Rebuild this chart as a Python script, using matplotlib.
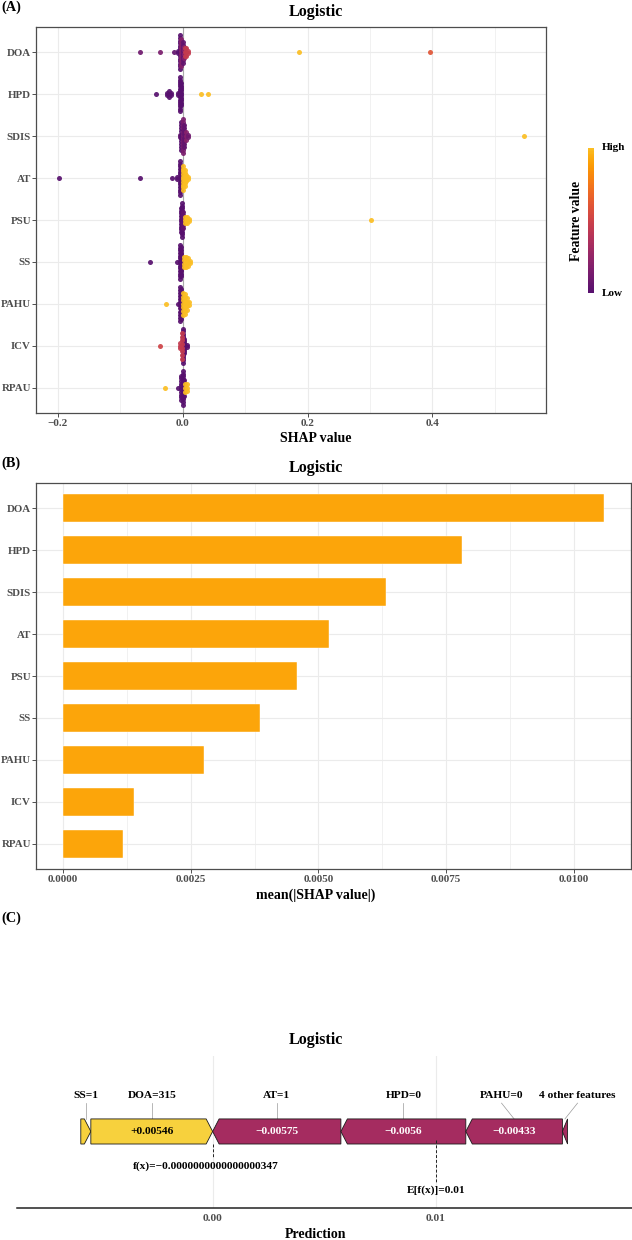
import numpy as np
import matplotlib
matplotlib.use("Agg")
import matplotlib.pyplot as plt
from matplotlib.colors import ListedColormap
from matplotlib.patches import Polygon
from matplotlib.cm import ScalarMappable
from matplotlib.colors import Normalize
from matplotlib.ticker import FixedLocator

plt.rcParams['font.family'] = ['Liberation Serif', 'DejaVu Serif']
plt.rcParams['font.weight'] = 'bold'
plt.rcParams['axes.unicode_minus'] = True

# ---------------- data ----------------
features = ["DOA", "HPD", "SDIS", "AT", "PSU", "SS", "PAHU", "ICV", "RPAU"]

# beeswarm: SHAP value, scaled feature value (0=low, 1=high), number of points
DOA_shap = [-0.068, -0.0367, -0.0147, -0.007, -0.004, -0.002, 0.000, 0.002, 0.004, 0.006, 0.008, 0.186, 0.396]
DOA_fval = [0.10, 0.15, 0.05, 0.00, 0.00, 0.20, 0.05, 0.20, 0.45, 0.45, 0.45, 1.00, 0.60]
DOA_n = [1, 1, 1, 2, 14, 10, 8, 4, 3, 3, 2, 1, 1]

HPD_shap = [-0.043, -0.0245, -0.0215, -0.0185, -0.007, -0.004, -0.002, 0.0288, 0.041]
HPD_fval = [0.0, 0.0, 0.0, 0.0, 0.0, 0.0, 0.0, 1.0, 1.0]
HPD_n = [1, 2, 3, 2, 2, 16, 10, 1, 1]

SDIS_shap = [-0.005, -0.002, 0.000, 0.002, 0.005, 0.008, 0.547]
SDIS_fval = [0.05, 0.00, 0.15, 0.05, 0.20, 0.10, 1.00]
SDIS_n = [2, 10, 12, 8, 3, 2, 1]

AT_shap = [-0.198, -0.068, -0.017, -0.009, -0.005, -0.003, 0.001, 0.003, 0.006, 0.009]
AT_fval = [0.0, 0.0, 0.0, 0.0, 0.0, 0.0, 1.0, 1.0, 1.0, 1.0]
AT_n = [1, 1, 1, 2, 14, 8, 10, 6, 3, 2]

PSU_shap = [-0.003, -0.001, 0.001, 0.004, 0.007, 0.010, 0.302]
PSU_fval = [0.0, 0.0, 0.05, 1.0, 1.0, 1.0, 1.0]
PSU_n = [10, 14, 6, 3, 3, 2, 1]

SS_shap = [-0.0516, -0.009, -0.005, -0.002, 0.002, 0.005, 0.008, 0.011]
SS_fval = [0.0, 0.0, 0.0, 0.0, 1.0, 1.0, 1.0, 1.0]
SS_n = [1, 1, 14, 12, 4, 4, 3, 2]

PAHU_shap = [-0.027, -0.008, -0.005, -0.002, 0.001, 0.004, 0.007, 0.010]
PAHU_fval = [1.0, 0.0, 0.0, 0.0, 1.0, 1.0, 1.0, 1.0]
PAHU_n = [1, 1, 12, 10, 7, 7, 4, 2]

ICV_shap = [0.000, 0.002, 0.007, -0.004, -0.001, -0.036]
ICV_fval = [0.00, 0.00, 0.00, 0.45, 0.45, 0.50]
ICV_n = [16, 8, 2, 3, 8, 1]

RPAU_shap = [-0.028, -0.007, -0.002, 0.000, 0.002, 0.004, 0.007]
RPAU_fval = [1.0, 0.0, 0.0, 0.0, 0.0, 1.0, 1.0]
RPAU_n = [1, 1, 10, 14, 6, 3, 3]

# bar chart: mean(|SHAP value|)
mean_abs_shap = [0.01059, 0.00781, 0.00632, 0.00520, 0.00458, 0.00386, 0.00276, 0.00138, 0.00118]

# force plot
force_labels = ["SS=1", "DOA=315", "AT=1", "HPD=0", "PAHU=0", "4 other features"]
force_values = [0.00045, 0.00546, -0.00575, -0.0056, -0.00433, -0.00023]
base_value = 0.01
fx_value = -3.47e-17

bee_data = {
    "DOA": (DOA_shap, DOA_fval, DOA_n),
    "HPD": (HPD_shap, HPD_fval, HPD_n),
    "SDIS": (SDIS_shap, SDIS_fval, SDIS_n),
    "AT": (AT_shap, AT_fval, AT_n),
    "PSU": (PSU_shap, PSU_fval, PSU_n),
    "SS": (SS_shap, SS_fval, SS_n),
    "PAHU": (PAHU_shap, PAHU_fval, PAHU_n),
    "ICV": (ICV_shap, ICV_fval, ICV_n),
    "RPAU": (RPAU_shap, RPAU_fval, RPAU_n),
}

# ---------------- styling ----------------
W, H = 632, 1240
fig = plt.figure(figsize=(W / 100, H / 100), dpi=100)

def fx(px):
    return px / W

def fy(py):
    return 1 - py / H

TICK_GRAY = '#4D4D4D'
GRID = '#EBEBEB'
BORDER = '#4D4D4D'
cmap = ListedColormap(plt.cm.inferno(np.linspace(0.25, 0.85, 256)))
norm = Normalize(0.0, 1.0)


def style_axes(ax):
    for s in ax.spines.values():
        s.set_color(BORDER)
        s.set_linewidth(0.9)
    ax.tick_params(axis='both', length=3, width=0.6, color='#333333',
                   labelcolor=TICK_GRAY, labelsize=8.0, pad=1.0)
    ax.tick_params(axis='y', labelsize=7.8, pad=0.6)
    ax.tick_params(axis='both', which='minor', length=0)
    ax.grid(True, which='major', color=GRID, linewidth=0.8)
    ax.grid(True, which='minor', color=GRID, linewidth=0.5)
    ax.set_axisbelow(True)
    for lab in ax.get_xticklabels() + ax.get_yticklabels():
        lab.set_fontweight('bold')


# ---------------- panel A: beeswarm ----------------
axA = fig.add_axes([fx(36), fy(413), (546 - 36) / W, (413 - 27) / H])
axA.axvline(0, color='#A9A9A9', linewidth=0.8, zorder=1.5)

for row, feat in enumerate(features):
    vals, fvals, counts = bee_data[feat]
    vals = np.asarray(vals, float)
    counts = np.asarray(counts, int)
    allx = np.repeat(vals, counts)
    n = len(allx)
    q75, q25 = np.percentile(allx, [75, 25])
    sd = allx.std(ddof=1)
    lo = min(sd, (q75 - q25) / 1.34) if q75 > q25 else sd
    bw = max(0.5 * 0.9 * lo * n ** -0.2, 0.0008)
    dens = np.array([np.exp(-0.5 * ((v - allx) / bw) ** 2).sum() for v in vals])
    dens = dens / dens.max()
    for v, fv, c, d in zip(vals, fvals, counts, dens):
        if c == 1:
            offs = np.array([0.0])
        elif c == 2:
            offs = np.array([-0.5, 0.5])
        else:
            offs = np.linspace(-1, 1, c)
        ys = row + offs * d * 0.4
        axA.scatter(np.full(c, v), ys, s=13, color=cmap(norm(float(fv))), linewidths=0,
                    alpha=0.92, zorder=3)

axA.set_xlim(-0.235, 0.582)
axA.set_ylim(len(features) - 0.4, -0.6)
axA.set_yticks(range(len(features)))
axA.set_yticklabels(features)
axA.xaxis.set_major_locator(FixedLocator([-0.2, 0.0, 0.2, 0.4]))
axA.xaxis.set_minor_locator(FixedLocator([-0.1, 0.1, 0.3, 0.5]))
axA.set_xticklabels(["\u22120.2", "0.0", "0.2", "0.4"])
style_axes(axA)
axA.grid(False, which='minor', axis='y')

fig.text(0.5, fy(12), "Logistic", ha='center', va='center', fontsize=11.5, fontweight='bold')
fig.text(0.5, fy(439), "SHAP value", ha='center', va='center', fontsize=10, fontweight='bold')
fig.text(0.002, fy(7), "(A)", ha='left', va='center', fontsize=10.4, fontweight='bold')

# colorbar
cax = fig.add_axes([fx(588), fy(293), 6 / W, (293 - 148) / H])
cb = fig.colorbar(ScalarMappable(norm=norm, cmap=cmap), cax=cax)
cb.outline.set_visible(False)
cb.set_ticks([])
fig.text(fx(602), fy(148), "High", ha='left', va='center', fontsize=8, fontweight='bold')
fig.text(fx(602), fy(293), "Low", ha='left', va='center', fontsize=8, fontweight='bold')
fig.text(fx(577), fy(221), "Feature value", ha='center', va='center', rotation=90,
         fontsize=9.8, fontweight='bold')

# ---------------- panel B: bars ----------------
axB = fig.add_axes([fx(36), fy(869), (631 - 36) / W, (869 - 483) / H])
axB.barh(range(len(features)), mean_abs_shap, height=0.67, color='#FCA50A',
         edgecolor='white', linewidth=0.3, zorder=3)
axB.set_xlim(-0.00053, 0.01112)
axB.set_ylim(len(features) - 0.4, -0.6)
axB.set_yticks(range(len(features)))
axB.set_yticklabels(features)
axB.xaxis.set_major_locator(FixedLocator([0, 0.0025, 0.005, 0.0075, 0.01]))
axB.xaxis.set_minor_locator(FixedLocator([0.00125, 0.00375, 0.00625, 0.00875, 0.01125]))
axB.set_xticklabels(["0.0000", "0.0025", "0.0050", "0.0075", "0.0100"])
style_axes(axB)
axB.grid(False, which='minor', axis='y')

fig.text(0.5, fy(468), "Logistic", ha='center', va='center', fontsize=11.5, fontweight='bold')
fig.text(0.5, fy(895), "mean(|SHAP value|)", ha='center', va='center', fontsize=10, fontweight='bold')
fig.text(0.002, fy(463), "(B)", ha='left', va='center', fontsize=10.4, fontweight='bold')

# ---------------- panel C: force plot ----------------
axC = fig.add_axes([fx(17), fy(1208), (632 - 17) / W, (1208 - 1056) / H])
axC.set_xlim(-0.00877, 0.0188)
axC.set_ylim(0, 1)
for s in ['top', 'right', 'left']:
    axC.spines[s].set_visible(False)
axC.spines['bottom'].set_color('#222222')
axC.spines['bottom'].set_linewidth(1.1)
axC.set_yticks([])
axC.xaxis.set_major_locator(FixedLocator([0.0, 0.01]))
axC.set_xticklabels(["0.00", "0.01"])
axC.tick_params(axis='x', length=0, labelsize=8.2, labelcolor=TICK_GRAY, pad=4)
for lab in axC.get_xticklabels():
    lab.set_fontweight('bold')
axC.grid(True, axis='x', color=GRID, linewidth=0.8)
axC.set_axisbelow(True)

y0, y1 = 0.421, 0.586
ym = (y0 + y1) / 2
head = 0.00029
fx0 = 0.0  # f(x) position on the axis
pos_total = sum(v for v in force_values if v > 0)
start = fx0 - pos_total
centers = []
xcur_pos = start
xcur_neg = fx0
for lab, v in zip(force_labels, force_values):
    if v > 0:
        a, b = xcur_pos, xcur_pos + v
        xcur_pos = b
        h = min(head, b - a)
        pts = [(a, y0), (b - h, y0), (b, ym), (b - h, y1), (a, y1)]
        col, tcol = '#F7D13D', 'black'
    else:
        a, b = xcur_neg, xcur_neg - v
        xcur_neg = b
        h = min(head, b - a)
        pts = [(b, y0), (a + h, y0), (a, ym), (a + h, y1), (b, y1)]
        col, tcol = '#A52C60', 'white'
    axC.add_patch(Polygon(pts, closed=True, facecolor=col, edgecolor='#1a1a1a',
                          linewidth=0.6, zorder=3))
    c = (a + b) / 2
    centers.append(c)
    if abs(v) > 0.002:
        txt = ('+' if v > 0 else '\u2212') + ('%.3g' % abs(v))
        axC.text(c, ym, txt, ha='center', va='center', color=tcol, fontsize=8.2,
                 fontweight='bold', zorder=4)

# labels above with simple horizontal repel
label_y = 0.737
texts = [axC.text(c, label_y, lab, ha='center', va='center', fontsize=8.2,
                  fontweight='bold', zorder=4) for c, lab in zip(centers, force_labels)]
fig.canvas.draw()
r = fig.canvas.get_renderer()
px_centers = [axC.transData.transform((c, label_y))[0] for c in centers]
widths = [t.get_window_extent(r).width for t in texts]
pos = list(px_centers)
gap = 16
for _ in range(200):
    moved = False
    for i in range(len(pos) - 1):
        need = widths[i] / 2 + widths[i + 1] / 2 + gap
        ov = need - (pos[i + 1] - pos[i])
        if ov > 0.01:
            pos[i] -= ov / 2
            pos[i + 1] += ov / 2
            moved = True
    if not moved:
        break
inv = axC.transData.inverted()
for t, p, c in zip(texts, pos, centers):
    xd = inv.transform((p, 0))[0]
    t.set_x(xd)
    axC.plot([xd, c], [0.69, y1], color='#9a9a9a', linewidth=0.5, zorder=2)

# f(x) and E[f(x)] markers
axC.plot([fx0, fx0], [y0, 0.336], color='#222222', linestyle=(0, (3, 2)), linewidth=0.7, zorder=4)
fx_str = ('%.19f' % fx_value).replace('-', '\u2212')
axC.text(fx0 - 0.0003, 0.276, "f(x)=" + fx_str, ha='center', va='center', fontsize=8.2, fontweight='bold')
axC.plot([base_value, base_value], [0.447, 0.171], color='#222222', linestyle=(0, (3, 2)),
         linewidth=0.7, zorder=4)
axC.text(base_value, 0.118, "E[f(x)]=%g" % base_value, ha='center', va='center', fontsize=8.2,
         fontweight='bold')

fig.text(0.5, fy(1040), "Logistic", ha='center', va='center', fontsize=11.5, fontweight='bold')
fig.text(0.5, fy(1235), "Prediction", ha='center', va='center', fontsize=10, fontweight='bold')
fig.text(0.002, fy(918), "(C)", ha='left', va='center', fontsize=10.4, fontweight='bold')

fig.savefig("out.png", dpi=100)
